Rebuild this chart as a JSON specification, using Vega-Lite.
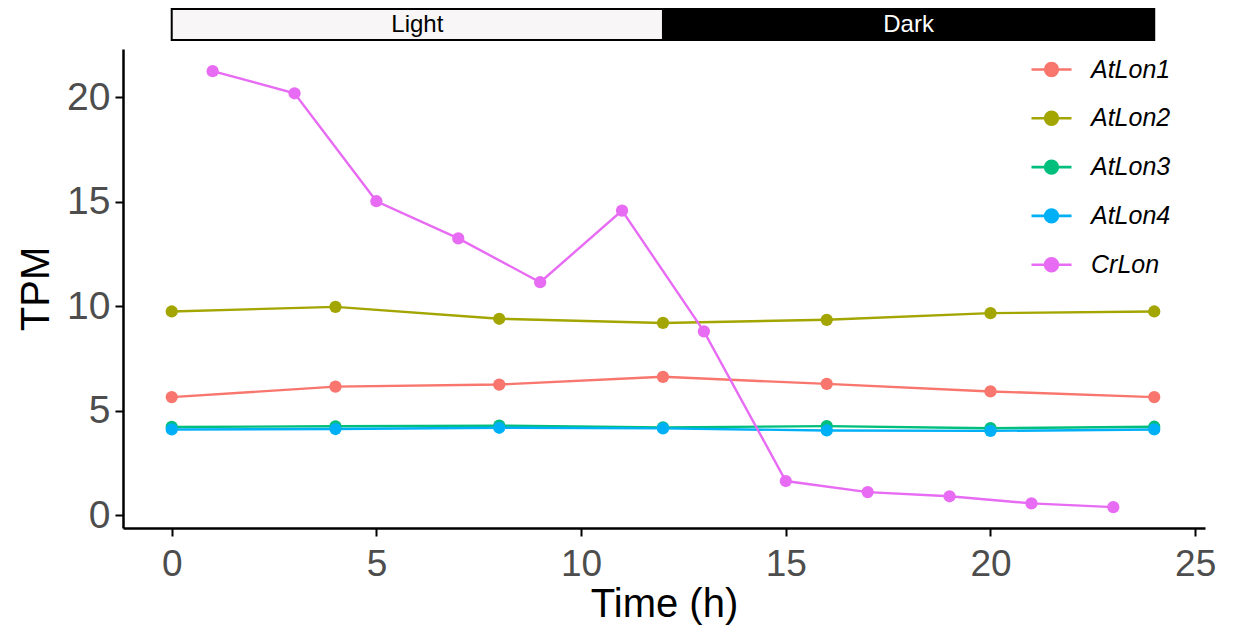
{
  "$schema": "https://vega.github.io/schema/vega-lite/v6.json",
  "padding": {"left": 16, "top": 8, "right": 5, "bottom": 5},
  "background": "white",
  "bounds": "flush",
  "spacing": 9,
  "config": {"view": {"stroke": null}, "font": "Liberation Sans"},
  "datasets": {
    "phase": [
      {"phase": "Light", "start": 0, "end": 12, "mid": 6},
      {"phase": "Dark", "start": 12, "end": 24, "mid": 18}
    ],
    "tpm": [
      {"gene": "AtLon1", "time": 0, "tpm": 5.65},
      {"gene": "AtLon1", "time": 4, "tpm": 6.15},
      {"gene": "AtLon1", "time": 8, "tpm": 6.25},
      {"gene": "AtLon1", "time": 12, "tpm": 6.62},
      {"gene": "AtLon1", "time": 16, "tpm": 6.28},
      {"gene": "AtLon1", "time": 20, "tpm": 5.92},
      {"gene": "AtLon1", "time": 24, "tpm": 5.65},
      {"gene": "AtLon2", "time": 0, "tpm": 9.75},
      {"gene": "AtLon2", "time": 4, "tpm": 9.97},
      {"gene": "AtLon2", "time": 8, "tpm": 9.4},
      {"gene": "AtLon2", "time": 12, "tpm": 9.2},
      {"gene": "AtLon2", "time": 16, "tpm": 9.35},
      {"gene": "AtLon2", "time": 20, "tpm": 9.67},
      {"gene": "AtLon2", "time": 24, "tpm": 9.75},
      {"gene": "AtLon3", "time": 0, "tpm": 4.22},
      {"gene": "AtLon3", "time": 4, "tpm": 4.25},
      {"gene": "AtLon3", "time": 8, "tpm": 4.28},
      {"gene": "AtLon3", "time": 12, "tpm": 4.2},
      {"gene": "AtLon3", "time": 16, "tpm": 4.26},
      {"gene": "AtLon3", "time": 20, "tpm": 4.16},
      {"gene": "AtLon3", "time": 24, "tpm": 4.23},
      {"gene": "AtLon4", "time": 0, "tpm": 4.1},
      {"gene": "AtLon4", "time": 4, "tpm": 4.12},
      {"gene": "AtLon4", "time": 8, "tpm": 4.18},
      {"gene": "AtLon4", "time": 12, "tpm": 4.15},
      {"gene": "AtLon4", "time": 16, "tpm": 4.05},
      {"gene": "AtLon4", "time": 20, "tpm": 4.03},
      {"gene": "AtLon4", "time": 24, "tpm": 4.1},
      {"gene": "CrLon", "time": 1, "tpm": 21.26},
      {"gene": "CrLon", "time": 3, "tpm": 20.2},
      {"gene": "CrLon", "time": 5, "tpm": 15.03},
      {"gene": "CrLon", "time": 7, "tpm": 13.25},
      {"gene": "CrLon", "time": 9, "tpm": 11.15},
      {"gene": "CrLon", "time": 11, "tpm": 14.58},
      {"gene": "CrLon", "time": 13, "tpm": 8.8},
      {"gene": "CrLon", "time": 15, "tpm": 1.63},
      {"gene": "CrLon", "time": 17, "tpm": 1.1},
      {"gene": "CrLon", "time": 19, "tpm": 0.9},
      {"gene": "CrLon", "time": 21, "tpm": 0.56},
      {"gene": "CrLon", "time": 23, "tpm": 0.38}
    ]
  },
  "vconcat": [
    {
      "width": 1082,
      "height": 31,
      "data": {"name": "phase"},
      "encoding": {
        "x": {"field": "start", "type": "quantitative", "scale": {"domain": [-1.19, 25.24], "nice": false, "zero": false}, "axis": null}
      },
      "layer": [
        {
          "mark": {"type": "rect", "stroke": "black", "strokeWidth": 2},
          "encoding": {
            "x2": {"field": "end"},
            "fill": {"field": "phase", "type": "nominal", "scale": {"domain": ["Light", "Dark"], "range": ["#F8F6F7", "#000000"]}, "legend": null}
          }
        },
        {
          "transform": [{"filter": "datum.phase === 'Light'"}],
          "mark": {"type": "text", "fontSize": 24, "baseline": "middle", "align": "center", "font": "Liberation Sans", "color": "black"},
          "encoding": {
            "x": {"field": "mid", "type": "quantitative"},
            "text": {"field": "phase"}
          }
        },
        {
          "transform": [{"filter": "datum.phase === 'Dark'"}],
          "mark": {"type": "text", "fontSize": 24, "baseline": "middle", "align": "center", "font": "Liberation Sans", "color": "white"},
          "encoding": {
            "x": {"field": "mid", "type": "quantitative"},
            "text": {"field": "phase"}
          }
        }
      ]
    },
    {
      "width": 1082,
      "height": 479,
      "data": {"name": "tpm"},
      "encoding": {
        "x": {
          "field": "time", "type": "quantitative",
          "scale": {"domain": [-1.19, 25.24], "nice": false, "zero": false},
          "axis": {
            "title": "Time (h)", "values": [0, 5, 10, 15, 20, 25], "grid": false,
            "domainColor": "black", "domainWidth": 2.5, "tickColor": "black", "tickWidth": 2, "tickSize": 8,
            "labelFontSize": 37, "labelColor": "#4D4D4D", "labelPadding": 10, "labelFont": "Liberation Sans",
            "titleFontSize": 40, "titleColor": "black", "titleFontWeight": "normal", "titlePadding": 2, "titleFont": "Liberation Sans"
          }
        },
        "y": {
          "field": "tpm", "type": "quantitative",
          "scale": {"domain": [-0.62, 22.32], "nice": false, "zero": false},
          "axis": {
            "title": "TPM", "values": [0, 5, 10, 15, 20], "grid": false,
            "domainColor": "black", "domainWidth": 2.5, "tickColor": "black", "tickWidth": 2, "tickSize": 8,
            "labelFontSize": 39, "labelColor": "#4D4D4D", "labelPadding": 5, "labelFont": "Liberation Sans",
            "titleFontSize": 40, "titleColor": "black", "titleFontWeight": "normal", "titlePadding": 10, "titleFont": "Liberation Sans"
          }
        },
        "color": {
          "field": "gene", "type": "nominal",
          "scale": {"domain": ["AtLon1", "AtLon2", "AtLon3", "AtLon4", "CrLon"], "range": ["#F8766D", "#A3A500", "#00BF7D", "#00B0F6", "#E76BF3"]},
          "legend": {
            "title": null, "orient": "none", "legendX": 907, "legendY": 39, "padding": 0,
            "symbolType": "M-1,0L1,0M-0.32,0A0.32,0.32 0 1,0 0.32,0A0.32,0.32 0 1,0 -0.32,0Z",
            "symbolSize": 1600, "symbolStrokeWidth": 2.6, "symbolOpacity": 1,
            "labelFontSize": 25, "labelFontStyle": "italic", "labelColor": "black", "labelOffset": 18, "labelFont": "Liberation Sans",
            "rowPadding": 13.8
          }
        }
      },
      "layer": [
        {"mark": {"type": "line", "strokeWidth": 2.4}},
        {"mark": {"type": "point", "filled": true, "size": 150, "opacity": 1, "shape": "circle"}}
      ]
    }
  ]
}
